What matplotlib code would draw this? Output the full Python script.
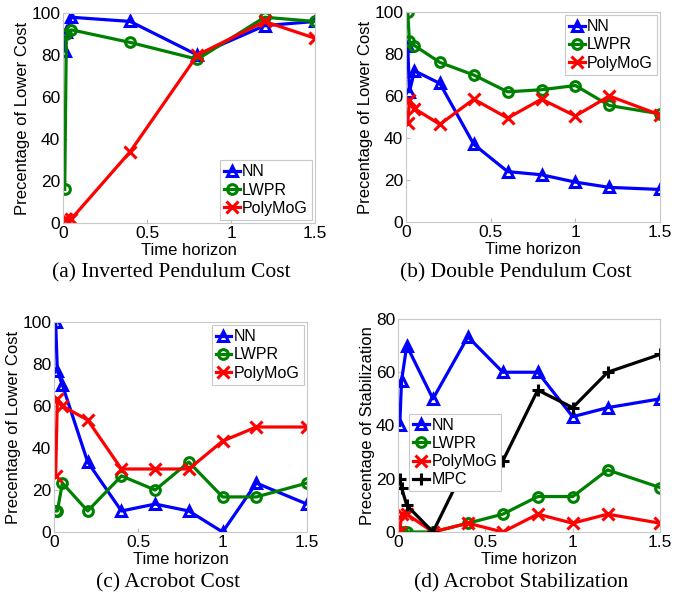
import matplotlib
matplotlib.use('Agg')
import matplotlib.pyplot as plt

# time horizons used in each experiment
t_all = [0.01, 0.02, 0.05, 0.2, 0.4, 0.6, 0.8, 1.0, 1.2, 1.5]
t_inv = [0.01, 0.02, 0.05, 0.4, 0.8, 1.2, 1.5]

# (a) Inverted Pendulum Cost
inv_nn = [82, 91, 98, 96, 80, 94, 96]
inv_lwpr = [16, 90, 92, 86, 78, 98, 96]
inv_poly = [2, 2, 2, 34, 80, 96, 88]

# (b) Double Pendulum Cost
dbl_nn = [84, 62, 72, 66, 37, 24, 22.5, 19, 16.5, 15.5]
dbl_lwpr = [100, 86, 84, 76, 70, 62, 63, 65, 55.5, 51.5]
dbl_poly = [47, 58, 54, 46.5, 58.5, 49.5, 58.5, 50.5, 60, 51]

# (c) Acrobot Cost
acr_nn = [100, 76.7, 70, 33.3, 10, 13.3, 10, 0, 23.3, 13.3]
acr_lwpr = [10, 10, 23.3, 10, 26.7, 20, 33.3, 16.7, 16.7, 23.3]
acr_poly = [26.7, 63.3, 60, 53.3, 30, 30, 30, 43.3, 50, 50]

# (d) Acrobot Stabilization
stab_nn = [40, 56.7, 70, 50, 73.3, 60, 60, 43.3, 46.7, 50]
stab_lwpr = [0, 0, 0, 0, 3.3, 6.7, 13.3, 13.3, 23.3, 16.7]
stab_poly = [0, 6.7, 6.7, 0, 3.3, 0, 6.7, 3.3, 6.7, 3.3]
stab_mpc = [20, 16.7, 10, 0, 26.7, 26.7, 53.3, 46.7, 60, 66.7]

captions = ['(a) Inverted Pendulum Cost', '(b) Double Pendulum Cost',
            '(c) Acrobot Cost', '(d) Acrobot Stabilization']

plt.rcParams['font.family'] = ['Liberation Sans', 'DejaVu Sans']

styles = {
    'NN': dict(color='#0000ff', marker='^'),
    'LWPR': dict(color='#008000', marker='o'),
    'PolyMoG': dict(color='#ff0000', marker='x'),
    'MPC': dict(color='black', marker='+'),
}


def draw(ax, x, series, ylab, ymax, legend_kw):
    for name, y in series:
        st = styles[name]
        ms = 9 if st['marker'] in ('x', '+') else 7
        ax.plot(x, y, color=st['color'], marker=st['marker'], lw=2.3,
                ms=ms, mew=2.2, mfc='none', label=name)
    ax.set_xlim(0, 1.5)
    ax.set_ylim(0, ymax)
    ax.set_xticks([0, 0.5, 1, 1.5])
    ax.set_xticklabels(['0', '0.5', '1', '1.5'])
    ax.set_yticks(range(0, ymax + 1, 20))
    ax.tick_params(direction='in', length=3, color='#bbbbbb', labelsize=12.5, pad=2)
    for sp in ax.spines.values():
        sp.set_color('#c8c8c8')
        sp.set_linewidth(0.8)
    ax.set_xlabel('Time horizon', fontsize=12, labelpad=1.5)
    ax.set_ylabel(ylab, fontsize=12, labelpad=1)
    leg = ax.legend(fontsize=11.5, handlelength=1.0, handletextpad=0.15,
                    borderpad=0.25, labelspacing=0.2, borderaxespad=0.2,
                    fancybox=False, framealpha=1, **legend_kw)
    leg.get_frame().set_edgecolor('#c8c8c8')
    leg.get_frame().set_linewidth(0.8)


fig = plt.figure(figsize=(6.91, 5.96), dpi=100)

ax_a = fig.add_axes([0.0912, 0.6258, 0.3647, 0.3523])
draw(ax_a, t_inv, [('NN', inv_nn), ('LWPR', inv_lwpr), ('PolyMoG', inv_poly)],
     'Precentage of Lower Cost', 100, dict(loc='lower right'))

ax_b = fig.add_axes([0.5876, 0.6275, 0.3676, 0.3523])
draw(ax_b, t_all, [('NN', dbl_nn), ('LWPR', dbl_lwpr), ('PolyMoG', dbl_poly)],
     'Precentage of Lower Cost', 100, dict(loc='upper right'))

ax_c = fig.add_axes([0.0781, 0.1074, 0.3661, 0.3523])
draw(ax_c, t_all, [('NN', acr_nn), ('LWPR', acr_lwpr), ('PolyMoG', acr_poly)],
     'Precentage of Lower Cost', 100, dict(loc='upper right'))

ax_d = fig.add_axes([0.576, 0.1074, 0.3792, 0.3574])
draw(ax_d, t_all, [('NN', stab_nn), ('LWPR', stab_lwpr), ('PolyMoG', stab_poly),
                   ('MPC', stab_mpc)],
     'Precentage of Stabilization', 80,
     dict(loc='upper left', bbox_to_anchor=(0.03, 0.57)))

cap_pos = [(0.248, 0.542), (0.747, 0.542), (0.243, 0.022), (0.754, 0.022)]
for (cx, cy), txt in zip(cap_pos, captions):
    fig.text(cx, cy, txt, ha='center', va='center', fontsize=15.5,
             family='Liberation Serif')

fig.savefig('out.png', dpi=100)
